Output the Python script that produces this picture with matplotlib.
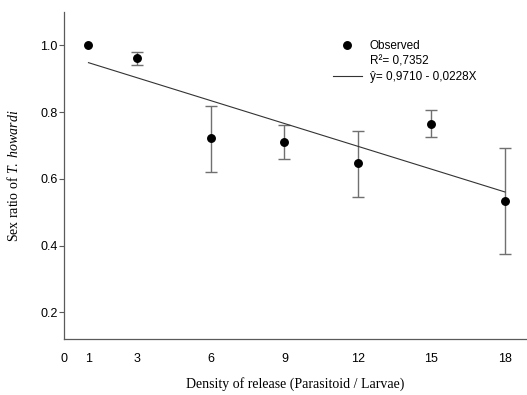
import matplotlib
matplotlib.use('Agg')
import matplotlib.pyplot as plt
from matplotlib.lines import Line2D
import numpy as np

# Data
density = [1, 3, 6, 9, 12, 15, 18]
sex_ratio = [1.000, 0.962, 0.721, 0.711, 0.648, 0.765, 0.535]
err_upper = [0.000, 0.018, 0.097, 0.050, 0.096, 0.040, 0.157]
err_lower = [0.000, 0.022, 0.101, 0.051, 0.103, 0.040, 0.160]

xticks = [0, 1, 3, 6, 9, 12, 15, 18]
yticks = [0.2, 0.4, 0.6, 0.8, 1.0]

# regression  y = 0.9710 - 0.0228 X
intercept = 0.9710
slope = -0.0228
r2_label = 'R²= 0,7352'
eq_label = 'ŷ= 0,9710 - 0,0228X'

plt.rcParams['mathtext.fontset'] = 'custom'
plt.rcParams['mathtext.rm'] = 'Liberation Serif'
plt.rcParams['mathtext.it'] = 'Liberation Serif:italic'

fig = plt.figure(figsize=(5.27, 3.95), dpi=100)
ax = fig.add_axes([0.1214, 0.1418, 0.8786, 0.8278])

axis_grey = '#5a5a5a'

# error bars only where there is a spread (point at x=1 has none)
d = np.array(density)
m = np.array(sex_ratio)
lo = np.array(err_lower)
up = np.array(err_upper)
has_err = (lo + up) > 0
ax.errorbar(d[has_err], m[has_err], yerr=[lo[has_err], up[has_err]], fmt='none',
            ecolor='#707070', elinewidth=1.0, capsize=4, capthick=1.0, zorder=2)
ax.plot(density, sex_ratio, 'o', color='black', markersize=5.4, zorder=3)

xs = np.array([density[0], density[-1]])
ax.plot(xs, intercept + slope * xs, color='#333333', linewidth=0.8, zorder=2)

ax.set_xlim(0, 18.9)
ax.set_ylim(0.12, 1.10)
ax.set_xticks(xticks)
ax.set_xticklabels([str(t) for t in xticks])
ax.set_yticks(yticks)
ax.set_yticklabels(['%.1f' % t for t in yticks])

for s in ['top', 'right']:
    ax.spines[s].set_visible(False)
for s in ['left', 'bottom']:
    ax.spines[s].set_color(axis_grey)
    ax.spines[s].set_linewidth(0.9)

ax.tick_params(axis='y', length=3.6, width=0.8, color=axis_grey, pad=1,
               labelsize=9, labelfontfamily='Liberation Sans')
ax.tick_params(axis='x', length=0, pad=10, labelsize=9,
               labelfontfamily='Liberation Sans')

ax.set_xlabel('Density of release (Parasitoid / Larvae)', family='Liberation Serif',
              fontsize=10, labelpad=9)
ax.set_ylabel(r'Sex ratio of $\mathit{T.\ howardi}$', family='Liberation Serif',
              fontsize=10, labelpad=14)

handles = [Line2D([], [], marker='o', color='black', linestyle='none', markersize=5.4),
           Line2D([], [], linestyle='none'),
           Line2D([], [], color='#333333', linewidth=0.8)]
labels = ['Observed', r2_label, eq_label]
ax.legend(handles, labels, loc='upper left', bbox_to_anchor=(0.581, 0.915),
          frameon=False, borderpad=0, borderaxespad=0, labelspacing=0.3,
          handlelength=2.45, handletextpad=0.68,
          prop={'family': 'Liberation Sans', 'size': 8.5})

fig.savefig('out.png', dpi=100)
